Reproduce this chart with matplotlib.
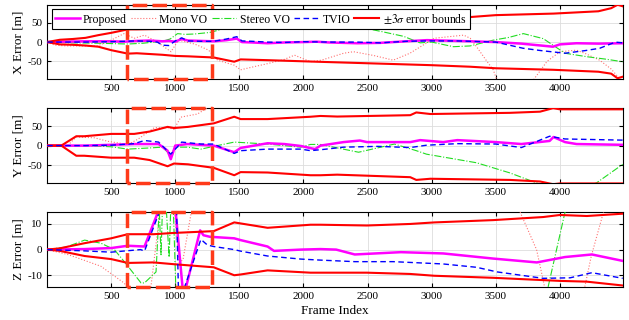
import matplotlib
matplotlib.use("Agg")
import matplotlib.pyplot as plt

plt.rcParams['font.family'] = ['Liberation Serif', 'DejaVu Serif']
plt.rcParams['mathtext.fontset'] = 'stix'
plt.rcParams['axes.unicode_minus'] = False

# ---------------- X error ----------------
xb_f = [1, 100, 200, 300, 400, 500, 630, 700, 900, 1000, 1100, 1300, 1460, 1510, 1720, 2100, 2500, 3000, 3300, 3500, 3950, 4300, 4400, 4450, 4490]
xb_up = [0, 6, 8, 11, 18, 24, 33, 33, 34, 37, 38, 41, 52, 47, 48, 52, 56, 61, 65, 70, 74, 80, 88, 97, 93]
xb_lo = [0, -6, -7, -9, -12, -21, -30, -29, -33, -36, -37, -40, -51, -45, -47, -51, -55, -60, -64, -68, -72, -77, -82, -94, -90]

xp_f = [1, 100, 300, 500, 600, 700, 800, 900, 950, 1000, 1050, 1100, 1200, 1300, 1400, 1480, 1520, 1600, 1720, 1850, 2000, 2100, 2200, 2420, 2600, 2800, 2963, 3200, 3500, 3700, 3946, 4000, 4130, 4300, 4490]
xp_v = [0, 1, 2, 2, 1, 3, 4, 2, 3, 1, 8, 4, 3, 2, 5, 9, 0, -1, -3, -1, 0, 1, -1, -3, -2, 2, 5, 3, 0, -4, -12, -6, -3, -4, -3]

xm_f = [1, 60, 150, 300, 396, 500, 600, 680, 760, 860, 967, 1025, 1050, 1150, 1200, 1260, 1330, 1460, 1510, 1600, 1720, 1850, 1930, 2055, 2140, 2313, 2390, 2550, 2700, 2830, 3020, 3250, 3300, 3350, 3420, 3480, 3510, 3600, 3700, 3790, 3900, 4000, 4130, 4200, 4310, 4400, 4460, 4490]
xm_v = [0, -8, -10, -10, -10, 5, 22, 10, 18, 0, -25, 5, 3, -5, -12, -21, -47, -60, -72, -65, -56, -45, -34, -51, -47, -29, -25, -35, -47, -29, 10, 18, 10, -12, -45, -72, -100, -130, -130, -100, -50, -25, -21, -30, -47, -70, -93, -100]

xs_f = [1, 200, 400, 630, 750, 830, 900, 960, 1018, 1075, 1150, 1270, 1360, 1460, 1600, 1900, 2200, 2495, 2600, 2780, 2910, 3000, 3170, 3300, 3480, 3600, 3715, 3870, 4040, 4210, 4350, 4490]
xs_v = [0, -2, -3, -5, -3, 0, 2, 8, 22, 20, 21, 25, 33, 44, 50, 55, 50, 35, 28, 15, -2, 0, -12, -10, 5, 12, 22, 9, -29, -38, -44, -51]

xt_f = [1, 100, 300, 500, 600, 700, 800, 860, 900, 950, 1000, 1050, 1100, 1200, 1300, 1400, 1480, 1520, 1600, 1720, 1850, 2000, 2200, 2420, 2600, 2800, 2963, 3200, 3500, 3712, 3850, 4040, 4200, 4311, 4433, 4490]
xt_v = [0, 0, 0, 1, 2, 3, 2, 0, -8, -9, 3, 11, 3, 2, 2, 8, 14, 3, 2, 0, -1, 1, 0, 0, -2, 2, 3, 3, 0, -16, -22, -29, -22, -16, 0, -2]

# ---------------- Y error ----------------
yb_f = [1, 111, 228, 290, 500, 680, 800, 940, 990, 1100, 1300, 1460, 1510, 1720, 2055, 2133, 2263, 2833, 2880, 2990, 3610, 3845, 3947, 4000, 4490]
yb_up = [0, 0, 24, 24, 30, 30, 36, 48, 45, 48, 57, 74, 68, 68, 74, 76, 74.5, 78, 85, 81, 84, 87, 96, 93, 93]
yb_lo = [0, 0, -26, -26, -31, -31, -37, -53, -46, -48, -57, -76, -68, -69, -76, -76, -74.5, -81, -88, -85, -88, -92, -99, -97, -97]

yp_f = [1, 300, 500, 680, 870, 940, 965, 1000, 1095, 1300, 1460, 1510, 1720, 1850, 1980, 2090, 2133, 2313, 2440, 2495, 2833, 2910, 3090, 3200, 3500, 3700, 3920, 3950, 4040, 4130, 4490]
yp_v = [0, 0, 2, 4, 4, -13, -35, 0, 4, 0, -17, -6, 6, 4, -1, -9, 0, 9, 13, 9, 9, 14, 9, 14, 9, 4, 12, 22, 9, 4, 2]

ym_f = [1, 160, 228, 370, 474, 630, 707, 837, 940, 990, 1044, 1173, 1252, 1350, 4490]
ym_v = [0, 0, 22, 20, 11, 3, 16, 46, 46, 42, 73, 81, 97, 130, 130]

ys_f = [1, 300, 500, 630, 800, 900, 965, 1000, 1095, 1200, 1300, 1460, 1720, 1980, 2055, 2130, 2430, 2710, 2880, 2960, 3350, 3610, 3820, 4000, 4284, 4490]
ys_v = [0, 0, -3, -9, -6, -4, -25, -4, -4, -9, -2, 9, 4, -4, 3, 3, -17, 4, -13, -22, -44, -70, -96, -120, -96, -48]

yt_f = [1, 300, 500, 680, 760, 870, 965, 1050, 1200, 1300, 1460, 1510, 1720, 1980, 2055, 2150, 2313, 2580, 2833, 2960, 3200, 3500, 3700, 3920, 4040, 4490]
yt_v = [0, 0, 1, 5, 13, 9, -22, 9, 4, 4, -20, -13, -9, -9, -13, -10, -4, -2, -5, 1, 5, 4, -5, 24, 17, 14]

# ---------------- Z error ----------------
zb_f = [1, 100, 293, 500, 630, 830, 990, 1300, 1460, 1510, 1720, 2055, 2133, 2495, 2833, 3020, 3480, 3870, 4000, 4210, 4490]
zb_up = [0, 0.5, 2.5, 4.4, 6, 6, 6.5, 7.2, 10.6, 10.2, 8.5, 9.7, 9.7, 9.4, 10, 10.6, 11.5, 12.7, 13.5, 13.1, 14]
zb_lo = [0, -0.5, -2.5, -3.7, -5.2, -5, -5.7, -6.9, -10, -9.7, -8.1, -9, -9, -9, -9.5, -10.2, -11, -11.9, -12.2, -12.5, -14]

zp_f = [1, 293, 500, 630, 760, 880, 990, 1000, 1060, 1075, 1194, 1220, 1270, 1460, 1510, 1720, 1770, 1980, 2133, 2255, 2400, 2560, 2760, 3090, 3480, 3820, 4040, 4250, 4490]
zp_v = [0, 0.2, 0.6, 1.5, 1.2, 16.5, 16.5, 16.5, -16.5, -16.5, 7.5, 5.6, 5, 4.4, 3.7, 1.2, -0.5, 0, 0.2, 0, -1.9, -1.5, -1, -1.5, -3.5, -5, -2.9, -1.9, -4.4]

zm_f = [1, 160, 230, 420, 500, 600, 660, 790, 810, 880, 900, 990, 1030, 1060, 1125, 1150, 3650, 3690, 3818, 3870, 3890, 4180, 4194, 4245, 4340, 4360, 4490]
zm_v = [0, -1.9, -3.1, -6.5, -9.4, -13, -17, -17, -14.6, 14.6, 17, 17, -5, -4, 14.6, 17, 17, 14.6, 0, -12, -17, -17, -14.6, -2.5, 14.6, 17, 17]

zs_f = [1, 150, 293, 420, 525, 617, 733, 760, 850, 875, 889, 900, 930, 952, 965, 985, 1005, 3880, 3908, 4040, 4100, 4490]
zs_v = [0, 1, 3.7, 2.5, 0, -5.6, -13, -13, -8.7, 16, -2, 16, 16, -3, 16, 16, -16, -16, -14.6, 14.6, 17, 17]

zt_f = [1, 293, 500, 730, 760, 890, 1010, 1025, 1060, 1200, 1250, 1300, 1460, 1510, 1720, 1980, 2133, 2400, 2700, 3090, 3350, 3510, 3870, 4080, 4250, 4490]
zt_v = [0, -0.5, -1, 0, -0.6, 16.5, 16.5, -16.5, -16.5, 4, 1.8, 1.2, 0, -0.6, -2.5, -3.7, -4.1, -4.7, -4.7, -5.6, -6.9, -8.7, -11.2, -11, -9, -11.2]

box_frames = [625, 1285]
x_ticks = [500, 1000, 1500, 2000, 2500, 3000, 3500, 4000]

panels = [
    ("X Error [m]", (-96, 96), [-50, 0, 50], xb_f, xb_up, xb_lo, xp_f, xp_v, xm_f, xm_v, xs_f, xs_v, xt_f, xt_v),
    ("Y Error [m]", (-96, 96), [-50, 0, 50], yb_f, yb_up, yb_lo, yp_f, yp_v, ym_f, ym_v, ys_f, ys_v, yt_f, yt_v),
    ("Z Error [m]", (-14.6, 14.6), [-10, 0, 10], zb_f, zb_up, zb_lo, zp_f, zp_v, zm_f, zm_v, zs_f, zs_v, zt_f, zt_v),
]

fig = plt.figure(figsize=(6.29, 3.2), dpi=100)
rects = [[0.075, 0.753, 0.915, 0.231], [0.075, 0.428, 0.915, 0.234], [0.075, 0.103, 0.915, 0.234]]

for i, (lab, ylim, yt, bf, bu, bl, pf, pv, mf, mv, sf, sv, tf, tv) in enumerate(panels):
    ax = fig.add_axes(rects[i])
    ax.plot(pf, pv, color='#FF00FF', lw=1.8, label='Proposed', zorder=4)
    ax.plot(mf, mv, color='#FF7070', lw=0.8, ls=':', label='Mono VO', zorder=3)
    ax.plot(sf, sv, color='#22DD22', lw=0.8, ls='-.', label='Stereo VO', zorder=3)
    ax.plot(tf, tv, color='#0000FF', lw=1.0, ls=(0, (4, 2.5)), label='TVIO', zorder=5)
    ax.plot(bf, bu, color='#FF0000', lw=1.5, label=r'$\pm3\sigma$ error bounds', zorder=4)
    ax.plot(bf, bl, color='#FF0000', lw=1.5, zorder=4)
    # highlighted window
    x0, x1 = box_frames
    ax.plot([x0, x0, x1, x1, x0], [ylim[0], ylim[1], ylim[1], ylim[0], ylim[0]],
            color='#FF3A1A', lw=2.5, ls=(0, (4.2, 1.5)), clip_on=False, zorder=6)
    ax.set_xlim(1, 4490)
    ax.set_ylim(*ylim)
    ax.set_yticks(yt)
    ax.set_xticks(x_ticks)
    ax.set_ylabel(lab, fontsize=9.5, labelpad=2)
    ax.grid(True, color='#DDDDDD', lw=0.6)
    ax.set_axisbelow(True)
    ax.tick_params(direction='in', top=True, right=True, labelsize=8, length=3, pad=3.5)
    for s in ax.spines.values():
        s.set_linewidth(0.8)
    if i == 0:
        leg = ax.legend(loc='upper left', bbox_to_anchor=(0.008, 0.95), ncol=5, fontsize=8.5,
                        frameon=True, fancybox=False, edgecolor='black', framealpha=1,
                        handlelength=2.1, columnspacing=0.35, handletextpad=0.3,
                        borderpad=0.25, borderaxespad=0)
        leg.get_frame().set_linewidth(0.8)
        leg.set_zorder(10)
    if i == 2:
        ax.set_xlabel('Frame Index', fontsize=9.5, labelpad=3)

fig.savefig('out.png', dpi=100)
